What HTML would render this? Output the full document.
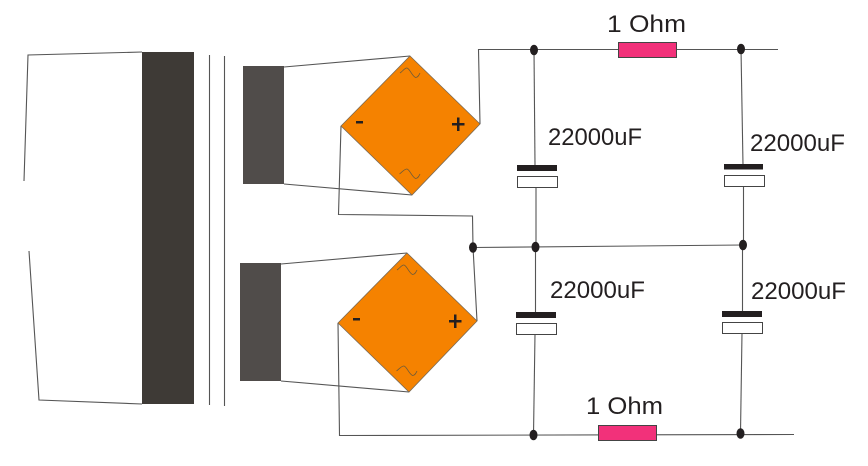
<!DOCTYPE html>
<html><head><meta charset="utf-8"><style>
html,body{margin:0;padding:0;background:#fff;width:868px;height:466px;overflow:hidden}
svg{display:block}
text{font-family:"Liberation Sans",sans-serif;fill:#231f20;font-size:24px}
.w{fill:none;stroke:#555;stroke-width:1.1}
.d{fill:#f58200;stroke:#7a6a55;stroke-width:.8}
.s{fill:none;stroke:#6b5a3a;stroke-width:.8}
.p{fill:#231f20}
.c{fill:#fff;stroke:#444;stroke-width:1}
.r{fill:#f2317a;stroke:#444;stroke-width:1}
.dot{fill:#231f20}
</style></head><body>
<svg width="868" height="466" viewBox="0 0 868 466" xmlns="http://www.w3.org/2000/svg">
<!-- primary -->
<polyline class="w" points="142,52 28,55 24,181"/>
<polyline class="w" points="29,251 39,400 142,404"/>
<rect x="142" y="52" width="52" height="352" fill="#3e3a36"/>
<line class="w" x1="209.500" y1="55" x2="209.500" y2="405"/>
<line class="w" x1="224.500" y1="56" x2="224.500" y2="406"/>
<!-- secondaries -->
<rect x="243" y="66" width="41" height="118" fill="#504c4a"/>
<rect x="240" y="263" width="41" height="118" fill="#504c4a"/>
<polyline class="w" points="284,67 410,56"/>
<polyline class="w" points="284,184 412,195"/>
<polyline class="w" points="281,264 407,253"/>
<polyline class="w" points="281,381 409,392"/>
<!-- wires -->
<polyline class="w" points="480,124 478.500,49.500 778,49.500"/>
<polyline class="w" points="341,126 338.500,214.500 472.500,216 473,247 477,321"/>
<polyline class="w" points="473,247.500 743,245"/>
<polyline class="w" points="338,323 339.500,435.500 794,434.500"/>
<polyline class="w" points="534,50 535,165"/>
<polyline class="w" points="536,187 536,252"/>
<polyline class="w" points="535.500,247 535.500,312"/>
<polyline class="w" points="535,334 533.500,435"/>
<polyline class="w" points="741,49 743,165"/>
<polyline class="w" points="743.500,186 743.500,245"/>
<polyline class="w" points="742.500,245 742.500,311"/>
<polyline class="w" points="742,333 740.500,433"/>
<!-- bridges -->
<polygon class="d" points="410,56 480,124 412,195 341,126"/>
<polygon class="d" points="407,253 477,321 409,392 338,323"/>
<path class="s" d="M400,73 C403,71 405,67.500 407,68 C410,69 412,76 415.500,77.500 C418,77.500 419,75 420,73"/>
<path class="s" d="M399.500,174 C402,172 405,168.500 407,169 C410,170 412,177 415.500,178.500 C418,178.500 419,176 420,174"/>
<path class="s" d="M397,270 C400,268 402,264.500 404,265 C407,266 409,273 412.500,274.500 C415,274.500 416,272 417,270"/>
<path class="s" d="M396.500,371 C399,369 402,365.500 404,366 C407,367 409,374 412.500,375.500 C415,375.500 416,373 417,371"/>
<rect class="p" x="356" y="121" width="7" height="2.500"/>
<rect class="p" x="353" y="318" width="7" height="2.500"/>
<path class="p" d="M452,123h5v-5.500h2.500v5.500h5v2.500h-5v5.500h-2.500v-5.500h-5z"/>
<path class="p" d="M449,320h5v-5.500h2.500v5.500h5v2.500h-5v5.500h-2.500v-5.500h-5z"/>
<!-- capacitors -->
<rect class="p" x="517" y="165" width="40" height="6"/>
<rect class="c" x="517.500" y="176.500" width="40" height="11"/>
<rect class="p" x="724" y="164" width="39" height="5.500"/>
<rect class="c" x="724.500" y="175.500" width="40" height="11"/>
<rect class="p" x="516" y="312" width="40" height="6"/>
<rect class="c" x="516.500" y="323.500" width="40" height="11"/>
<rect class="p" x="722" y="311" width="40" height="6"/>
<rect class="c" x="722.500" y="322.500" width="40" height="11"/>
<!-- resistors -->
<rect class="r" x="618.500" y="42.500" width="58" height="15"/>
<rect class="r" x="598.500" y="425.500" width="58" height="15"/>
<!-- dots -->
<ellipse class="dot" cx="534" cy="50" rx="4" ry="5.300"/>
<ellipse class="dot" cx="741" cy="49" rx="4" ry="5.300"/>
<ellipse class="dot" cx="473" cy="247.500" rx="4" ry="5.300"/>
<ellipse class="dot" cx="535.500" cy="247" rx="4" ry="5.300"/>
<ellipse class="dot" cx="743" cy="245" rx="4" ry="5.300"/>
<ellipse class="dot" cx="533.500" cy="435" rx="4" ry="5.300"/>
<ellipse class="dot" cx="740.500" cy="433.500" rx="4" ry="5.300"/>
<!-- labels -->
<text x="548" y="145" textLength="94" lengthAdjust="spacingAndGlyphs">22000uF</text>
<text x="750" y="151" textLength="95" lengthAdjust="spacingAndGlyphs">22000uF</text>
<text x="550" y="298" textLength="95" lengthAdjust="spacingAndGlyphs">22000uF</text>
<text x="751" y="299" textLength="95" lengthAdjust="spacingAndGlyphs">22000uF</text>
<text x="607" y="32" textLength="79" lengthAdjust="spacingAndGlyphs">1 Ohm</text>
<text x="586" y="414" textLength="77" lengthAdjust="spacingAndGlyphs">1 Ohm</text>
</svg>
</body></html>
